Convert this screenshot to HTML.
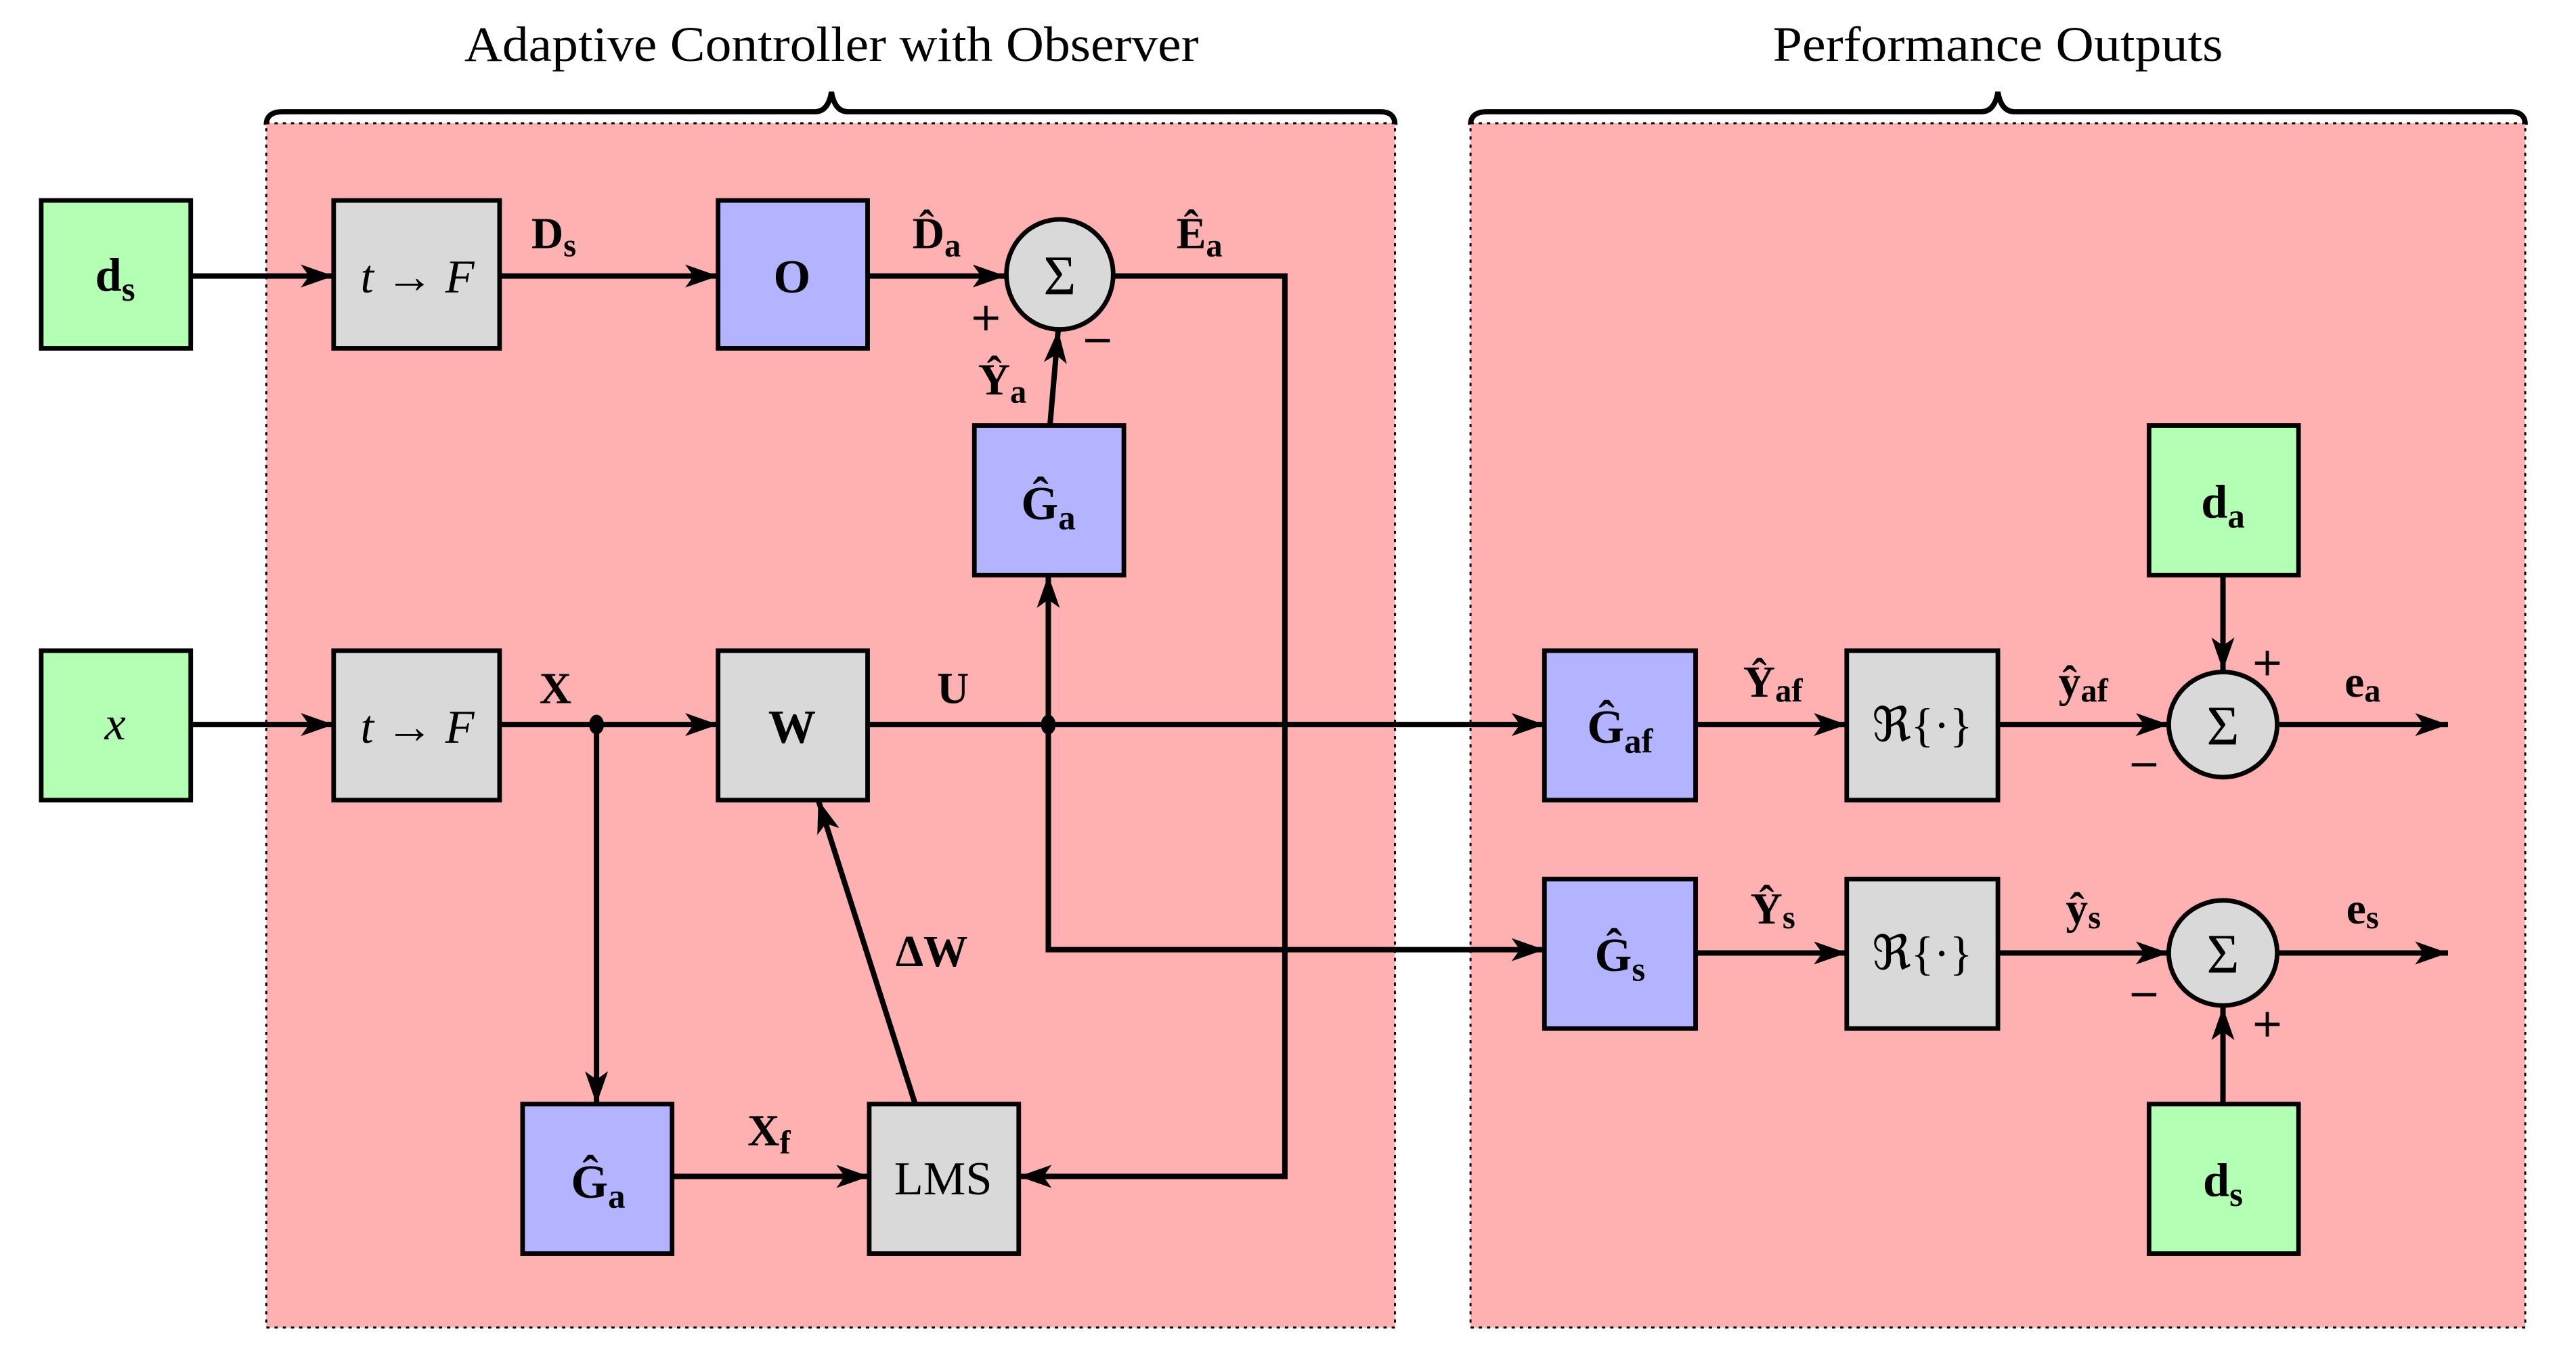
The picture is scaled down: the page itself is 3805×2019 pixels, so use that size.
<!DOCTYPE html>
<html><head><meta charset="utf-8"><style>html,body{margin:0;padding:0;background:#fff}svg{display:block}</style></head>
<body>
<svg xmlns="http://www.w3.org/2000/svg" width="3805" height="2019" viewBox="0 0 1567.8 832">
<defs>
<marker id="a" viewBox="0 0 20 14" refX="20" refY="7" markerWidth="20" markerHeight="14" markerUnits="userSpaceOnUse" orient="auto">
<path d="M0,0 L20,7 L0,14 L5,7 Z" fill="#000"/>
</marker>
</defs>
<g font-family="Liberation Serif, serif">
<text x="506" y="37" font-size="30" text-anchor="middle" textLength="447" lengthAdjust="spacingAndGlyphs">Adaptive Controller with Observer</text>
<text x="1216" y="37" font-size="30" text-anchor="middle" textLength="274" lengthAdjust="spacingAndGlyphs">Performance Outputs</text>
</g>
<g fill="none" stroke="#000" stroke-width="3.2">
<path d="M162,76 Q162,68 172,68 L496,68 Q504,68 506,56 Q508,68 516,68 L840,68 Q849,68 849,76"/>
<path d="M895,76 Q895,68 905,68 L1206,68 Q1214,68 1216,56 Q1218,68 1226,68 L1528,68 Q1537,68 1537,76"/>
</g>
<rect x="162" y="75" width="687" height="733" fill="#FFB0B0" stroke="#000" stroke-width="1.2" stroke-dasharray="2,3"/>
<rect x="895" y="75" width="642" height="733" fill="#FFB0B0" stroke="#000" stroke-width="1.2" stroke-dasharray="2,3"/>

<g fill="none" stroke="#000" stroke-width="3.3" marker-end="url(#a)">
<line x1="116" y1="168" x2="203" y2="168"/>
<line x1="304" y1="168" x2="437" y2="168"/>
<line x1="528" y1="168" x2="612" y2="168"/>
<polyline points="678,168 782,168 782,716 620,716"/>
<line x1="639" y1="259" x2="644" y2="201"/>
<line x1="116" y1="441" x2="203" y2="441"/>
<line x1="304" y1="441" x2="437" y2="441"/>
<line x1="363" y1="441" x2="363" y2="672"/>
<line x1="528" y1="441" x2="940" y2="441"/>
<line x1="638" y1="441" x2="638" y2="350"/>
<polyline points="638,441 638,578 940,578"/>
<line x1="409" y1="716" x2="529" y2="716"/>
<line x1="557" y1="672" x2="498" y2="487"/>
<line x1="1032" y1="441" x2="1124" y2="441"/>
<line x1="1216" y1="441" x2="1320" y2="441"/>
<line x1="1386" y1="441" x2="1490" y2="441"/>
<line x1="1353" y1="350" x2="1353" y2="408"/>
<line x1="1032" y1="580" x2="1124" y2="580"/>
<line x1="1216" y1="580" x2="1320" y2="580"/>
<line x1="1386" y1="580" x2="1490" y2="580"/>
<line x1="1353" y1="672" x2="1353" y2="613"/>
</g>
<ellipse cx="363" cy="441" rx="4.5" ry="6"/>
<ellipse cx="638" cy="441" rx="4.5" ry="6"/>

<g stroke="#000" stroke-width="2.8">
<rect x="25" y="122" width="91" height="90" fill="#B3FFB3"/>
<rect x="203" y="122" width="101" height="90" fill="#D9D9D9"/>
<rect x="437" y="122" width="91" height="90" fill="#B3B3FF"/>
<ellipse cx="645" cy="167" rx="32.5" ry="33.5" fill="#D9D9D9"/>
<rect x="593" y="259" width="91" height="91" fill="#B3B3FF"/>
<rect x="25" y="396" width="91" height="91" fill="#B3FFB3"/>
<rect x="203" y="396" width="101" height="91" fill="#D9D9D9"/>
<rect x="437" y="396" width="91" height="91" fill="#D9D9D9"/>
<rect x="318" y="672" width="91" height="91" fill="#B3B3FF"/>
<rect x="529" y="672" width="91" height="91" fill="#D9D9D9"/>
<rect x="940" y="396" width="92" height="91" fill="#B3B3FF"/>
<rect x="1124" y="396" width="92" height="91" fill="#D9D9D9"/>
<ellipse cx="1353" cy="441" rx="33" ry="32" fill="#D9D9D9"/>
<rect x="1308" y="259" width="91" height="91" fill="#B3FFB3"/>
<rect x="940" y="535" width="92" height="91" fill="#B3B3FF"/>
<rect x="1124" y="535" width="92" height="91" fill="#D9D9D9"/>
<ellipse cx="1353" cy="580" rx="33" ry="32" fill="#D9D9D9"/>
<rect x="1308" y="672" width="91" height="91" fill="#B3FFB3"/>
</g>

<g font-family="Liberation Serif, serif" font-size="29" text-anchor="middle">
<text x="70" y="177" font-weight="bold">d<tspan font-size="21" dy="6">s</tspan></text>
<text x="254" y="178" font-style="italic">t → F</text>
<text x="482" y="178" font-weight="bold">O</text>
<text x="645" y="179" font-size="34">Σ</text>
<text x="638" y="316" font-weight="bold">Ĝ<tspan font-size="21" dy="6">a</tspan></text>
<text x="70" y="450" font-style="italic">x</text>
<text x="254" y="452" font-style="italic">t → F</text>
<text x="482" y="452" font-weight="bold">W</text>
<text x="364" y="729" font-weight="bold">Ĝ<tspan font-size="21" dy="6">a</tspan></text>
<text x="574" y="727">LMS</text>
<text x="986" y="452" font-weight="bold">Ĝ<tspan font-size="21" dy="6">af</tspan></text>
<text x="1170" y="451">ℜ{·}</text>
<text x="1353" y="453" font-size="34">Σ</text>
<text x="1353" y="315" font-weight="bold">d<tspan font-size="21" dy="6">a</tspan></text>
<text x="986" y="591" font-weight="bold">Ĝ<tspan font-size="21" dy="6">s</tspan></text>
<text x="1170" y="590">ℜ{·}</text>
<text x="1353" y="592" font-size="34">Σ</text>
<text x="1353" y="728" font-weight="bold">d<tspan font-size="21" dy="6">s</tspan></text>
</g>

<g font-family="Liberation Serif, serif" font-size="27" font-weight="bold" text-anchor="middle">
<text x="337" y="151">D<tspan font-size="20" dy="5">s</tspan></text>
<text x="570" y="151">D̂<tspan font-size="20" dy="5">a</tspan></text>
<text x="730" y="151">Ê<tspan font-size="20" dy="5">a</tspan></text>
<text x="610" y="240">Ŷ<tspan font-size="20" dy="5">a</tspan></text>
<text x="338" y="428">X</text>
<text x="580" y="428">U</text>
<text x="567" y="588">ΔW</text>
<text x="468" y="697">X<tspan font-size="20" dy="5">f</tspan></text>
<text x="1079" y="424">Ŷ<tspan font-size="20" dy="3">af</tspan></text>
<text x="1268" y="424">ŷ<tspan font-size="20" dy="3">af</tspan></text>
<text x="1438" y="424">e<tspan font-size="20" dy="3">a</tspan></text>
<text x="1079" y="562">Ŷ<tspan font-size="20" dy="3">s</tspan></text>
<text x="1268" y="562">ŷ<tspan font-size="20" dy="3">s</tspan></text>
<text x="1438" y="562">e<tspan font-size="20" dy="3">s</tspan></text>
</g>
<g font-family="DejaVu Sans, sans-serif" font-size="24" text-anchor="middle">
<text x="600" y="201">+</text>
<text x="668" y="215">−</text>
<text x="1380" y="411">+</text>
<text x="1305" y="473">−</text>
<text x="1305" y="613">−</text>
<text x="1380" y="631">+</text>
</g>
</svg>
</body></html>
